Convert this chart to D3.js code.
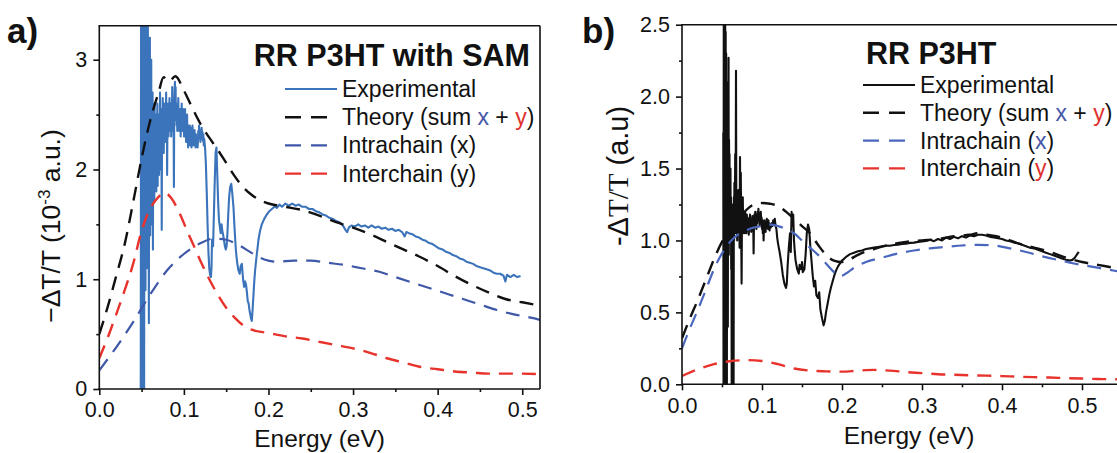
<!DOCTYPE html>
<html><head><meta charset="utf-8">
<script src="https://cdn.jsdelivr.net/npm/d3@7"></script>
<style>
body{margin:0;background:#fff}
svg{display:block}
text{font-family:"Liberation Sans",Arial,Helvetica,sans-serif;fill:#111}
</style>
</head><body>
<svg id="chart" width="1117" height="453"></svg>
<script>
// ---------- tick values ----------
const energyTicks = [0, 0.1, 0.2, 0.3, 0.4, 0.5];
const energyMinor = [0.05, 0.15, 0.25, 0.35, 0.45, 0.55];
const yTicksA = [0, 1, 2, 3];
const yMinorA = [0.5, 1.5, 2.5];
const yTicksB = [0, 0.5, 1.0, 1.5, 2.0, 2.5];
const yMinorB = [0.25, 0.75, 1.25, 1.75, 2.25];

const legendLabels = ["Experimental", "Theory (sum x + y)", "Intrachain (x)", "Interchain (y)"];

// ---------- panel a: RR P3HT with SAM (units 10^-3) ----------
const expA = [
[0.0490,0.00],[0.0494,3.50],[0.0498,0.00],[0.0502,3.50],[0.0506,0.40],[0.0510,3.50],[0.0514,0.00],[0.0518,3.50],[0.0522,1.20],[0.0526,3.50],
[0.0530,0.00],[0.0534,3.10],[0.0538,1.60],[0.0542,3.50],[0.0546,0.90],[0.0550,2.80],[0.0554,1.30],[0.0558,3.50],[0.0562,1.50],[0.0566,2.60],
[0.0570,1.10],[0.0574,3.30],[0.0578,1.70],[0.0582,2.50],[0.0586,0.60],[0.0590,2.40],[0.0594,1.90],[0.0598,3.20],[0.0602,1.40],[0.0606,2.60],
[0.0610,1.80],[0.0614,3.00],[0.0618,1.50],[0.0622,2.30],[0.0626,1.90],[0.0630,2.70],[0.0634,1.27],[0.0638,2.50],[0.0642,2.00],[0.0646,2.40],
[0.0650,1.70],[0.0654,2.60],[0.0658,1.90],[0.0662,2.30],[0.0666,2.00],[0.0670,2.50],[0.0674,1.80],[0.0678,2.20],[0.0682,2.05],[0.0686,2.60],
[0.0690,1.85],[0.0694,2.30],[0.0698,2.10],[0.0702,2.50],[0.0706,1.95],[0.0710,2.40],[0.0714,2.10],[0.0718,2.70],[0.0722,2.00],[0.0726,2.45],
[0.0730,2.20],[0.0734,2.55],[0.0738,1.45],[0.0742,2.50],[0.0746,2.25],[0.0750,2.65],[0.0754,2.30],[0.0758,2.50],[0.0762,2.15],[0.0766,2.60],
[0.0770,2.35],[0.0774,2.55],[0.0778,2.25],[0.0782,2.45],[0.0786,2.30],[0.0790,2.70],[0.0794,2.40],[0.0798,2.55],[0.0802,1.95],[0.0806,2.50],
[0.0810,2.35],[0.0814,2.60],[0.0818,2.30],[0.0822,2.50],[0.0826,2.40],[0.0830,2.65],[0.0834,2.35],[0.0838,2.55],[0.0842,2.45],[0.0846,2.60],
[0.0850,2.30],[0.0854,2.50],[0.0858,2.40],[0.0862,2.75],[0.0866,2.45],[0.0870,2.60],[0.0874,2.35],[0.0878,2.50],[0.0882,1.84],[0.0886,2.55],
[0.0890,2.70],[0.0894,2.80],[0.0898,2.55],[0.0902,2.75],[0.0906,2.45],[0.0910,2.60],[0.0914,2.40],[0.0918,2.55],[0.0922,2.35],[0.0926,2.50],
[0.0930,2.45],[0.0934,2.65],[0.0938,2.40],[0.0942,2.55],[0.0946,2.35],[0.0950,2.50],[0.0954,2.40],[0.0958,2.55],[0.0962,2.30],[0.0966,2.50],
[0.0970,2.45],[0.0974,2.60],[0.0978,2.40],[0.0982,2.50],[0.0986,2.35],[0.0990,2.55],[0.0994,2.40],[0.0998,2.50],[0.1002,2.30],[0.1006,2.45],
[0.1010,2.35],[0.1014,2.55],[0.1018,2.30],[0.1022,2.45],[0.1026,2.25],[0.1030,2.40],[0.1034,2.30],[0.1038,2.50],[0.1042,2.25],[0.1046,2.35],
[0.1050,2.20],[0.1054,2.40],[0.1058,2.25],[0.1062,2.35],[0.1066,2.28],[0.1070,2.40],[0.1074,2.22],[0.1078,2.35],[0.1082,2.25],[0.1086,2.38],
[0.1090,2.20],[0.1094,2.32],[0.1098,2.28],[0.1102,2.40],[0.1106,2.25],[0.1110,2.30],[0.1114,2.22],[0.1118,2.34],[0.1122,2.26],[0.1126,2.36],
[0.1130,2.24],[0.1134,2.30],[0.1138,2.20],[0.1142,2.32],[0.1146,2.25],[0.1150,2.30],[0.1154,2.22],[0.1158,2.28],[0.1162,2.20],[0.1166,2.26],
[0.1170,2.35],[0.1175,2.28],[0.1180,2.40],[0.1185,2.30],[0.1190,2.36],[0.1195,2.25],[0.1200,2.33],[0.1205,2.28],[0.1210,2.38],[0.1215,2.30],
[0.1220,2.34],[0.1225,2.26],[0.1230,2.32],[0.1235,2.22],[0.1240,2.28],[0.1250,2.20],[0.1260,2.05],[0.1270,1.80],[0.1280,1.50],[0.1290,1.25],
[0.1300,1.10],[0.1310,1.04],[0.1320,1.02],[0.1326,1.10],[0.1333,1.36],[0.1345,1.30],[0.1355,1.60],[0.1365,1.90],[0.1375,2.15],[0.1385,2.20],
[0.1395,1.95],[0.1405,1.70],[0.1415,1.54],[0.1425,1.48],[0.1435,1.42],[0.1445,1.50],[0.1455,1.44],[0.1465,1.40],[0.1475,1.35],[0.1485,1.30],
[0.1495,1.27],[0.1505,1.30],[0.1515,1.42],[0.1525,1.60],[0.1535,1.75],[0.1547,1.84],[0.1560,1.87],[0.1570,1.80],[0.1586,1.66],[0.1600,1.45],
[0.1615,1.26],[0.1630,1.15],[0.1645,1.08],[0.1660,1.05],[0.1672,1.12],[0.1685,1.14],[0.1700,1.00],[0.1712,0.93],[0.1724,0.98],[0.1735,0.95],
[0.1745,0.88],[0.1755,0.80],[0.1765,0.78],[0.1775,0.72],[0.1785,0.68],[0.1795,0.64],[0.1803,0.62],[0.1812,0.72],[0.1822,0.85],[0.1832,0.98],
[0.1842,1.08],[0.1855,1.18],[0.1870,1.28],[0.1882,1.36],[0.1900,1.44],[0.1921,1.50],[0.1950,1.55],[0.1980,1.59],[0.2010,1.62],[0.2040,1.64],
[0.2070,1.66],[0.2100,1.65],[0.2130,1.68],[0.2160,1.66],[0.2200,1.69],[0.2240,1.67],[0.2280,1.69],[0.2320,1.67],[0.2360,1.68],[0.2400,1.66],
[0.2440,1.66],[0.2480,1.64],[0.2520,1.64],[0.2560,1.62],[0.2600,1.61],[0.2640,1.59],[0.2680,1.58],[0.2720,1.56],[0.2760,1.55],[0.2800,1.53],
[0.2840,1.52],[0.2880,1.49],[0.2910,1.45],[0.2930,1.43],[0.2950,1.47],[0.2980,1.49],[0.3020,1.48],[0.3060,1.50],[0.3100,1.48],[0.3140,1.49],
[0.3180,1.47],[0.3220,1.49],[0.3260,1.47],[0.3300,1.48],[0.3340,1.46],[0.3380,1.47],[0.3420,1.45],[0.3460,1.46],[0.3500,1.44],[0.3540,1.45],
[0.3580,1.43],[0.3610,1.39],[0.3630,1.43],[0.3660,1.42],[0.3700,1.41],[0.3740,1.39],[0.3780,1.38],[0.3820,1.36],[0.3860,1.35],[0.3900,1.33],
[0.3940,1.32],[0.3980,1.30],[0.4020,1.28],[0.4060,1.27],[0.4100,1.25],[0.4140,1.24],[0.4180,1.22],[0.4220,1.21],[0.4260,1.19],[0.4300,1.18],
[0.4340,1.16],[0.4380,1.15],[0.4420,1.14],[0.4460,1.12],[0.4500,1.11],[0.4540,1.10],[0.4580,1.09],[0.4620,1.08],[0.4660,1.06],[0.4700,1.05],
[0.4740,1.05],[0.4780,1.03],[0.4800,0.98],[0.4820,1.04],[0.4860,1.02],[0.4900,1.04],[0.4940,1.02],[0.4980,1.03]
];
const theoryA = [
[0,0.50],[0.01,0.75],[0.02,1.03],[0.03,1.32],[0.04,1.70],[0.05,2.10],[0.06,2.44],[0.07,2.70],[0.076,2.84],[0.082,2.80],
[0.09,2.85],[0.10,2.72],[0.11,2.56],[0.12,2.41],[0.13,2.29],[0.14,2.18],[0.15,2.06],[0.16,1.94],[0.17,1.84],[0.18,1.77],
[0.19,1.72],[0.20,1.69],[0.22,1.66],[0.24,1.63],[0.26,1.58],[0.28,1.52],[0.30,1.47],[0.32,1.41],[0.34,1.34],[0.36,1.27],
[0.38,1.20],[0.40,1.12],[0.42,1.03],[0.44,0.95],[0.46,0.88],[0.48,0.82],[0.50,0.79],[0.521,0.76]
];
const intraA = [
[0,0.17],[0.02,0.38],[0.04,0.61],[0.06,0.86],[0.08,1.08],[0.10,1.23],[0.12,1.33],[0.135,1.37],[0.15,1.36],[0.165,1.31],
[0.18,1.24],[0.195,1.18],[0.21,1.16],[0.23,1.17],[0.25,1.17],[0.27,1.15],[0.29,1.13],[0.31,1.10],[0.33,1.07],[0.35,1.02],
[0.37,0.97],[0.39,0.92],[0.41,0.87],[0.43,0.82],[0.45,0.77],[0.47,0.72],[0.49,0.68],[0.51,0.65],[0.521,0.63]
];
const interA = [
[0,0.28],[0.01,0.47],[0.02,0.68],[0.03,0.90],[0.04,1.14],[0.05,1.44],[0.06,1.64],[0.07,1.75],[0.077,1.79],[0.085,1.74],
[0.095,1.60],[0.105,1.42],[0.112,1.30],[0.12,1.16],[0.13,1.00],[0.14,0.86],[0.15,0.74],[0.16,0.65],[0.17,0.58],[0.18,0.54],
[0.20,0.51],[0.22,0.48],[0.24,0.46],[0.26,0.43],[0.28,0.40],[0.30,0.37],[0.32,0.33],[0.34,0.28],[0.36,0.24],[0.38,0.20],
[0.40,0.18],[0.42,0.16],[0.44,0.15],[0.46,0.14],[0.48,0.14],[0.50,0.14],[0.521,0.135]
];

// ---------- panel b: RR P3HT (a.u.) ----------
const expB = [
[0.0516,1.75],[0.0519,0.00],[0.0522,2.60],[0.0525,0.00],[0.0528,2.60],[0.0531,0.90],[0.0534,2.60],[0.0537,0.00],[0.0540,2.60],[0.0543,0.60],
[0.0546,2.45],[0.0549,0.00],[0.0552,2.30],[0.0555,1.00],[0.0558,2.10],[0.0561,0.00],[0.0564,1.95],[0.0567,1.20],[0.0570,2.00],[0.0573,0.40],
[0.0576,1.80],[0.0579,1.10],[0.0582,2.27],[0.0585,0.90],[0.0588,1.70],[0.0591,1.30],[0.0594,1.60],[0.0597,1.05],[0.0600,1.40],[0.0603,1.20],
[0.0606,1.50],[0.0609,1.00],[0.0612,1.30],[0.0615,0.80],[0.0618,1.20],[0.0621,0.00],[0.0624,1.15],[0.0627,0.00],[0.0630,1.25],[0.0633,0.00],
[0.0636,1.10],[0.0639,0.00],[0.0642,1.20],[0.0645,0.00],[0.0648,1.30],[0.0651,1.00],[0.0655,1.40],[0.0660,1.05],[0.0665,1.60],[0.0670,1.10],
[0.0675,2.18],[0.0680,1.05],[0.0685,1.30],[0.0690,1.00],[0.0695,1.25],[0.0700,1.05],[0.0705,1.35],[0.0710,1.10],[0.0715,1.20],[0.0720,0.95],
[0.0725,1.58],[0.0730,1.10],[0.0735,1.47],[0.0740,1.05],[0.0745,0.70],[0.0750,1.20],[0.0755,1.10],[0.0760,1.30],[0.0765,1.05],[0.0770,1.20],
[0.0775,1.10],[0.0780,1.15],[0.0785,1.05],[0.0790,1.20],[0.0795,1.08],[0.0800,1.15],[0.0805,1.05],[0.0810,1.18],[0.0815,1.10],[0.0820,1.16],
[0.0825,1.07],[0.0830,1.14],[0.0835,1.04],[0.0840,1.15],[0.0845,1.08],[0.0850,1.18],[0.0855,1.10],[0.0860,1.15],[0.0865,1.06],[0.0870,1.14],
[0.0875,1.10],[0.0880,1.17],[0.0885,1.08],[0.0890,1.15],[0.0895,0.91],[0.0900,1.12],[0.0905,1.18],[0.0910,1.10],[0.0915,1.20],[0.0920,1.12],
[0.0925,1.16],[0.0930,1.08],[0.0935,1.18],[0.0940,1.12],[0.0945,1.20],[0.0950,1.14],[0.0955,1.22],[0.0960,1.15],[0.0965,1.19],[0.0970,1.10],
[0.0975,1.17],[0.0980,1.13],[0.0985,1.20],[0.0990,1.12],[0.0995,1.16],[0.1000,1.08],[0.1005,1.14],[0.1010,1.05],[0.1015,1.12],[0.1020,1.00],
[0.1025,1.10],[0.1030,1.14],[0.1035,1.08],[0.1040,1.13],[0.1045,1.06],[0.1050,1.12],[0.1055,1.09],[0.1060,1.15],[0.1065,1.10],[0.1070,1.13],
[0.1075,1.08],[0.1080,1.14],[0.1085,1.10],[0.1090,1.12],[0.1095,1.07],[0.1100,1.11],[0.1110,1.09],[0.1120,1.12],[0.1130,1.10],[0.1140,1.14],
[0.1150,1.12],[0.1160,1.15],[0.1170,1.10],[0.1180,1.08],[0.1190,1.02],[0.1200,0.98],[0.1220,0.92],[0.1240,0.85],[0.1260,0.76],[0.1280,0.70],
[0.1300,0.67],[0.1310,0.70],[0.1320,0.82],[0.1335,0.95],[0.1350,1.05],[0.1360,0.92],[0.1370,1.20],[0.1380,1.10],[0.1390,1.18],[0.1400,1.00],
[0.1410,0.92],[0.1420,0.86],[0.1440,0.80],[0.1460,0.77],[0.1470,0.83],[0.1490,0.80],[0.1500,0.85],[0.1510,0.78],[0.1530,0.80],[0.1545,0.90],
[0.1560,1.05],[0.1575,1.11],[0.1590,1.08],[0.1605,0.95],[0.1620,0.85],[0.1635,0.75],[0.1650,0.68],[0.1665,0.72],[0.1680,0.62],[0.1700,0.60],
[0.1715,0.64],[0.1730,0.52],[0.1750,0.46],[0.1770,0.41],[0.1785,0.44],[0.1800,0.50],[0.1820,0.56],[0.1840,0.62],[0.1860,0.67],[0.1880,0.71],
[0.1900,0.75],[0.1925,0.79],[0.1950,0.82],[0.1975,0.84],[0.2000,0.86],[0.2030,0.875],[0.2060,0.89],[0.2100,0.905],[0.2150,0.915],[0.2200,0.925],
[0.2250,0.93],[0.2300,0.94],[0.2350,0.945],[0.2400,0.95],[0.2450,0.955],[0.2500,0.96],[0.2550,0.965],[0.2600,0.963],[0.2650,0.968],[0.2700,0.97],
[0.2750,0.975],[0.2800,0.978],[0.2850,0.983],[0.2900,0.985],[0.2950,0.99],[0.3000,0.993],[0.3050,0.997],[0.3100,1.005],[0.3150,0.995],[0.3200,1.01],
[0.3250,1.00],[0.3300,1.02],[0.3350,1.01],[0.3400,1.025],[0.3450,1.015],[0.3500,1.03],[0.3550,1.02],[0.3600,1.035],[0.3650,1.03],[0.3700,1.04],
[0.3750,1.04],[0.3800,1.035],[0.3850,1.025],[0.3900,1.02],[0.3950,1.015],[0.4000,1.01],[0.4050,1.00],[0.4100,0.995],[0.4150,0.985],[0.4200,0.98],
[0.4250,0.97],[0.4300,0.96],[0.4350,0.95],[0.4400,0.945],[0.4450,0.935],[0.4500,0.925],[0.4550,0.915],[0.4600,0.905],[0.4650,0.895],[0.4700,0.885],
[0.4750,0.875],[0.4800,0.865],[0.4850,0.86],[0.4880,0.865],[0.4910,0.88],[0.4940,0.905],[0.4960,0.92]
];
const theoryB = [
[0,0.32],[0.01,0.46],[0.02,0.59],[0.03,0.73],[0.04,0.87],[0.05,0.99],[0.06,1.07],[0.07,1.14],[0.08,1.21],[0.09,1.25],
[0.10,1.26],[0.11,1.255],[0.12,1.24],[0.13,1.20],[0.14,1.15],[0.15,1.10],[0.16,1.05],[0.17,0.97],[0.18,0.90],[0.19,0.86],
[0.20,0.85],[0.21,0.87],[0.22,0.90],[0.24,0.94],[0.26,0.97],[0.28,0.99],[0.30,1.00],[0.32,1.01],[0.34,1.03],[0.36,1.04],
[0.37,1.05],[0.38,1.04],[0.40,1.02],[0.42,0.98],[0.44,0.95],[0.46,0.92],[0.48,0.88],[0.50,0.85],[0.52,0.83],[0.54,0.81],[0.57,0.78]
];
const intraB = [
[0,0.25],[0.01,0.39],[0.02,0.52],[0.03,0.66],[0.04,0.80],[0.05,0.91],[0.06,0.99],[0.07,1.04],[0.08,1.07],[0.09,1.09],
[0.10,1.10],[0.11,1.11],[0.12,1.10],[0.13,1.08],[0.14,1.05],[0.15,1.00],[0.16,0.95],[0.17,0.90],[0.18,0.84],[0.19,0.78],
[0.197,0.75],[0.205,0.77],[0.215,0.81],[0.23,0.85],[0.25,0.88],[0.27,0.91],[0.29,0.93],[0.31,0.945],[0.33,0.955],[0.35,0.965],
[0.37,0.97],[0.39,0.965],[0.41,0.945],[0.43,0.92],[0.45,0.89],[0.47,0.865],[0.49,0.84],[0.51,0.82],[0.53,0.80],[0.55,0.78],[0.57,0.76]
];
const interB = [
[0,0.058],[0.02,0.105],[0.04,0.14],[0.06,0.16],[0.08,0.168],[0.10,0.162],[0.12,0.14],[0.14,0.11],[0.16,0.095],[0.18,0.09],
[0.20,0.088],[0.22,0.095],[0.24,0.10],[0.26,0.095],[0.28,0.085],[0.30,0.078],[0.32,0.07],[0.34,0.066],[0.36,0.063],[0.38,0.06],
[0.40,0.057],[0.42,0.053],[0.44,0.05],[0.46,0.047],[0.48,0.043],[0.50,0.04],[0.52,0.037],[0.54,0.035],[0.57,0.033]
];

// ---------- styling ----------
const C = { expA:"#3b74bb", black:"#111", intra:"#3f57a8", intraB:"#4a67bd", red:"#e8322c", redText:"#e0312e", blueText:"#4658a8" };
const DASH = "14,9";
const svg = d3.select("#chart");

function drawPanel(o) {
  const x = d3.scaleLinear().domain(o.xDomain).range([o.left, o.right]);
  const y = d3.scaleLinear().domain(o.yDomain).range([o.bottom, o.top]);
  const g = svg.append("g");
  const cid = "clip" + o.id;
  svg.append("defs").append("clipPath").attr("id", cid).append("rect")
    .attr("x", o.left).attr("y", o.top).attr("width", o.right - o.left).attr("height", o.bottom - o.top);
  const plot = g.append("g").attr("clip-path", `url(#${cid})`);
  const smooth = d3.line().x(d => x(d[0])).y(d => y(d[1])).curve(d3.curveMonotoneX);
  const raw = d3.line().x(d => x(d[0])).y(d => y(d[1]));
  o.series.forEach(s => {
    plot.append("path").datum(s.data)
      .attr("d", s.dash ? smooth : raw)
      .attr("fill", "none").attr("stroke", s.color)
      .attr("stroke-width", s.width).attr("stroke-dasharray", s.dash || null)
      .attr("stroke-linejoin", "round");
  });
  // axes
  const fmtX = d3.format(".1f");
  const styleAxis = a => {
    a.select(".domain").remove();
    a.selectAll("line").attr("stroke", "#111").attr("stroke-width", 1.6);
    a.selectAll("text").attr("font-size", 21.5).attr("font-family", '"Liberation Sans",Arial,sans-serif').attr("fill", "#222");
  };
  g.append("g").attr("transform", `translate(0,${o.bottom})`)
    .call(d3.axisBottom(x).tickValues(energyTicks).tickFormat(fmtX).tickSize(6).tickPadding(7)).call(styleAxis);
  g.append("g").attr("transform", `translate(0,${o.bottom})`)
    .call(d3.axisBottom(x).tickValues(energyMinor.filter(v => v <= o.xDomain[1])).tickFormat("").tickSize(3)).call(styleAxis);
  g.append("g").attr("transform", `translate(${o.left},0)`)
    .call(d3.axisLeft(y).tickValues(o.yTicks).tickFormat(o.yFmt).tickSize(6).tickPadding(6)).call(styleAxis);
  g.append("g").attr("transform", `translate(${o.left},0)`)
    .call(d3.axisLeft(y).tickValues(o.yMinor).tickFormat("").tickSize(3)).call(styleAxis);
  // frame
  const fr = g.append("g").attr("stroke", "#111").attr("stroke-width", 1.6).attr("fill", "none");
  fr.append("line").attr("x1", o.left).attr("x2", o.left).attr("y1", o.top).attr("y2", o.bottom);
  fr.append("line").attr("x1", o.left - 0.8).attr("x2", o.right).attr("y1", o.bottom).attr("y2", o.bottom);
  fr.append("line").attr("x1", o.left - 0.8).attr("x2", o.right).attr("y1", o.top).attr("y2", o.top);
  if (o.rightFrame) fr.append("line").attr("x1", o.right).attr("x2", o.right).attr("y1", o.top).attr("y2", o.bottom);

  // axis titles
  g.append("text").attr("x", (o.left + o.xTitleRight) / 2).attr("y", o.xTitleY).attr("text-anchor", "middle")
    .attr("font-size", 24.5).text("Energy (eV)");
  const yl = g.append("text").attr("transform", `translate(${o.yTitleX},${o.yTitleY}) rotate(-90)`)
    .attr("text-anchor", "middle").attr("font-size", o.yTitleSize);
  o.yTitle(yl);

  // panel letter & title
  g.append("text").attr("x", o.letterX).attr("y", 43).attr("font-size", 35).attr("font-weight", "bold").text(o.letter);
  g.append("text").attr("x", o.titleX).attr("y", o.titleY).attr("text-anchor", o.titleAnchor)
    .attr("font-size", 30.5).attr("font-weight", "bold").text(o.title);

  // legend
  const lg = g.append("g");
  o.series.forEach((s, i) => {
    const cy = o.legY + i * o.legStep;
    lg.append("line").attr("x1", o.legX).attr("x2", o.legX + 52).attr("y1", cy).attr("y2", cy)
      .attr("stroke", s.color).attr("stroke-width", s.dash ? 2.4 : 2.2).attr("stroke-dasharray", s.dash ? "16,10" : null);
    const t = lg.append("text").attr("x", o.legX + 57).attr("y", cy + 8).attr("font-size", 23);
    o.legendText(t, i);
  });
}

function theoryLegend(t) {
  t.append("tspan").text("Theory (sum ");
  t.append("tspan").attr("fill", C.blueText).text("x");
  t.append("tspan").text(" + ");
  t.append("tspan").attr("fill", C.redText).text("y");
  t.append("tspan").text(")");
}

drawPanel({
  id: "A", letter: "a)", letterX: 7,
  left: 99.3, right: 540, top: 25.7, bottom: 389,
  xDomain: [0, 0.521], yDomain: [0, 3.31],
  yTicks: yTicksA, yMinor: yMinorA, yFmt: d3.format("d"), rightFrame: true,
  xTitleRight: 540, xTitleY: 447, yTitleX: 60, yTitleY: 226, yTitleSize: 26.5,
  yTitle: t => {
    t.append("tspan").text("\u2212\u0394T/T (10");
    t.append("tspan").attr("font-size", 17).attr("dy", -10).text("-3");
    t.append("tspan").attr("dy", 10).text(" a.u.)");
  },
  title: "RR P3HT with SAM", titleX: 530, titleY: 66, titleAnchor: "end",
  legX: 285, legY: 89, legStep: 28.2,
  series: [
    { data: expA, color: C.expA, width: 2.1 },
    { data: theoryA, color: C.black, width: 2.4, dash: DASH },
    { data: intraA, color: C.intra, width: 2.2, dash: DASH },
    { data: interA, color: C.red, width: 2.4, dash: DASH }
  ],
  legendText: (t, i) => {
    if (i === 0) t.text(legendLabels[0]);
    else if (i === 1) theoryLegend(t);
    else if (i === 2) t.attr("fill", C.blueText).text(legendLabels[2]);
    else t.attr("fill", C.redText).text(legendLabels[3]);
  }
});

drawPanel({
  id: "B", letter: "b)", letterX: 582,
  left: 682, right: 1136, top: 24.7, bottom: 384.3,
  xDomain: [0, 0.5675], yDomain: [0, 2.5],
  yTicks: yTicksB, yMinor: yMinorB, yFmt: d3.format(".1f"), rightFrame: false,
  xTitleRight: 1136, xTitleY: 444, yTitleX: 628, yTitleY: 176, yTitleSize: 29,
  yTitle: t => {
    t.append("tspan").text("-");
    t.append("tspan").text("\u0394");
    t.append("tspan").attr("font-family", '"Liberation Serif",serif').text("T/T");
    t.append("tspan").text(" (a.u)");
  },
  title: "RR P3HT", titleX: 866, titleY: 64, titleAnchor: "start",
  legX: 863, legY: 85, legStep: 27.8,
  series: [
    { data: expB, color: C.black, width: 2.1 },
    { data: theoryB, color: C.black, width: 2.4, dash: DASH },
    { data: intraB, color: C.intraB, width: 2.2, dash: DASH },
    { data: interB, color: C.red, width: 2.4, dash: DASH }
  ],
  legendText: (t, i) => {
    if (i === 0) t.text(legendLabels[0]);
    else if (i === 1) theoryLegend(t);
    else if (i === 2) { t.append("tspan").text("Intrachain ("); t.append("tspan").attr("fill", C.blueText).text("x"); t.append("tspan").text(")"); }
    else { t.append("tspan").text("Interchain ("); t.append("tspan").attr("fill", C.redText).text("y"); t.append("tspan").text(")"); }
  }
});
</script>
</body></html>
